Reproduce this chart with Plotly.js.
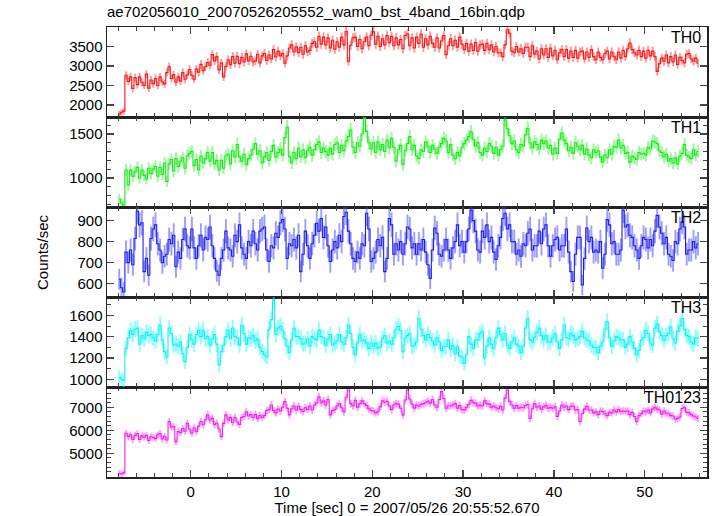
<!DOCTYPE html>
<html>
<head>
<meta charset="utf-8">
<script src="https://cdn.plot.ly/plotly-3.0.1.min.js"></script>
<style>html,body{margin:0;padding:0;background:#fff;}</style>
</head>
<body>
<div id="chart" style="width:717px;height:516px;"></div>
<script>
// Time bins: 0.25 s (16 bins of 1/64 s), first bin centre at -7.875 s
var binStart = -7.875;
var binSec = 0.25;

var th0 = [
1760,1810,1840,2760, 2600,2720,2420,2700, 2520,2720,2580,2500, 2790,2430,2640,2540,
2680,2500,2720,2590, 2540,2830,2980,2680, 2770,2580,2720,2610, 2830,2660,2770,2910,
2760,2660,2920,2840, 3040,2880,2980,3090, 3020,3290,3130,3240, 2900,3080,2720,2990,
3160,3030,3240,3070, 3250,3060,3220,3100, 3310,3130,3250,3100, 3130,3300,3080,3260,
3320,3140,3280,3180, 3420,3230,3380,3260, 3320,3070,3260,3460, 3540,3360,3490,3340,
3480,3300,3520,3360, 3400,3580,3620,3480, 3760,3560,3740,3540, 3720,3460,3660,3430,
3620,3480,3740,3540, 3890,3120,3530,3720, 3740,3500,3680,3440, 3620,3740,3520,3790,
3880,3560,3760,3500, 3700,3540,3780,3600, 3760,3520,3720,3540, 3680,3440,3780,3820,
3520,3720,3460,3740, 3580,3820,3480,3700, 3540,3760,3580,3480, 3720,3460,3640,3780,
3290,3520,3700,3520, 3660,3480,3740,3560, 3420,3580,3380,3560, 3400,3600,3380,3540,
3560,3400,3580,3420, 3540,3360,3500,3340, 3340,3240,3540,3930, 3840,3380,3340,3500,
3360,3440,3320,3480, 3480,3240,3520,3310, 3380,3180,3440,3280, 3440,3220,3460,3260,
3400,3160,3340,3420, 3240,3420,3200,3380, 3220,3400,3200,3360, 3380,3180,3360,3220,
3420,3240,3160,3360, 3220,3160,3320,3380, 3180,3360,3240,3160, 3360,3200,3400,3240,
3440,3590,3420,3340, 3280,3400,3240,3380, 3200,3400,3260,3380, 3240,2860,3060,3200,
3120,3280,3080,3240, 3100,3280,3040,3220, 3140,3080,3300,3320, 3180,3120,3200,3070
];

var th1 = [
760,715,690,1090, 920,1090,1020,1070, 1120,1000,1090,1030, 990,1110,1050,1100,
1130,1020,1120,1040, 1170,960,1160,1210, 1080,1220,1130,1190, 1230,1110,1250,1280,
1300,1140,1210,1090, 1250,1170,1220,1290, 1190,1290,1160,1200, 1090,1200,1110,1250,
1270,1160,1310,1240, 1380,1240,1190,1270, 1150,1220,1260,1330, 1390,1270,1310,1170,
1240,1290,1200,1300, 1370,1240,1290,1330, 1260,1460,1580,1240, 1170,1290,1220,1340,
1240,1320,1230,1310, 1350,1260,1320,1380, 1410,1290,1340,1300, 1260,1340,1270,1380,
1400,1290,1370,1310, 1420,1470,1545,1350, 1290,1400,1360,1500, 1680,1530,1400,1330,
1400,1290,1410,1320, 1380,1300,1430,1340, 1450,1350,1190,1320, 1370,1150,1310,1390,
1470,1320,1370,1250, 1220,1320,1300,1410, 1360,1290,1370,1330, 1280,1350,1390,1450,
1420,1290,1380,1260, 1220,1290,1250,1350, 1390,1430,1470,1525, 1440,1360,1400,1290,
1260,1340,1300,1390, 1360,1280,1350,1260, 1320,1360,1660,1560, 1480,1390,1420,1320,
1290,1380,1360,1490, 1565,1400,1340,1410, 1380,1330,1430,1390, 1420,1340,1370,1270,
1340,1280,1440,1510, 1430,1390,1310,1350, 1280,1400,1360,1320, 1370,1270,1330,1260,
1230,1320,1290,1310, 1240,1180,1260,1230, 1320,1270,1360,1350, 1430,1340,1370,1280,
1290,1180,1250,1230, 1210,1290,1270,1280, 1260,1350,1330,1420, 1410,1390,1310,1290,
1240,1270,1190,1220, 1170,1230,1160,1250, 1280,1380,1260,1240, 1220,1320,1260,1300
];

var th2 = [
620,580,560,750, 700,760,690,815, 945,880,890,657, 720,640,815,860,
880,790,760,700, 730,740,810,790, 830,680,750,720, 810,860,780,770,
860,770,720,780, 830,760,820,810, 870,780,720,660, 640,720,760,850,
770,760,730,830, 800,880,770,740, 720,800,780,850, 790,760,850,860,
870,760,705,780, 770,840,820,890, 905,860,720,790, 780,810,770,830,
657,740,850,780, 720,790,830,887, 850,910,820,870, 780,705,760,800,
770,830,800,920, 940,850,790,720, 705,750,720,790, 780,935,860,705,
720,750,810,780, 820,657,720,910, 880,740,790,760, 800,740,790,870,
860,770,790,740, 790,760,810,750, 690,625,760,865, 840,740,730,760,
810,760,720,770, 800,880,780,800, 750,800,860,950, 900,850,760,750,
850,820,880,800, 820,750,715,780, 820,910,935,860, 880,800,800,740,
760,730,790,780, 840,860,760,780, 780,850,790,860, 880,780,730,780,
810,820,760,780, 780,860,750,657, 610,740,820,820, 593,720,865,800,
820,750,760,750, 800,673,740,905, 880,790,800,740, 740,760,950,870,
880,830,820,780, 760,720,780,820, 810,770,810,780, 850,925,870,840,
790,820,740,730, 710,800,790,860, 895,870,740,760, 760,800,770,790
];

var th3 = [
1020,1000,990,1290, 1390,1460,1420,1470, 1480,1330,1410,1380, 1440,1410,1420,1390,
1360,1420,1510,1370, 1260,1210,1480,1430, 1320,1330,1310,1350, 1240,1165,1300,1420,
1370,1330,1420,1460, 1400,1460,1380,1400, 1320,1380,1420,1330, 1135,1260,1320,1400,
1460,1380,1480,1400, 1390,1320,1510,1430, 1330,1390,1380,1410, 1360,1380,1300,1260,
1230,1210,1470,1560, 1745,1420,1480,1500, 1460,1380,1310,1250, 1370,1480,1400,1400,
1380,1330,1340,1380, 1310,1400,1380,1370, 1460,1400,1390,1320, 1380,1420,1320,1340,
1360,1420,1350,1330, 1390,1510,1430,1300, 1230,1340,1420,1360, 1370,1340,1290,1340,
1310,1340,1290,1300, 1380,1410,1340,1360, 1330,1390,1470,1495, 1460,1260,1390,1410,
1430,1310,1320,1350, 1570,1470,1410,1370, 1420,1390,1360,1320, 1390,1350,1270,1310,
1310,1370,1280,1320, 1240,1310,1220,1210, 1150,1230,1400,1330, 1290,1370,1370,1430,
1450,1200,1310,1390, 1330,1290,1390,1480, 1420,1370,1430,1320, 1290,1350,1390,1330,
1310,1250,1310,1480, 1570,1370,1350,1390, 1440,1480,1410,1370, 1410,1350,1350,1390,
1430,1350,1290,1370, 1510,1390,1380,1430, 1410,1370,1380,1400, 1450,1390,1370,1360,
1320,1300,1300,1250, 1310,1350,1470,1540, 1390,1310,1360,1400, 1390,1370,1370,1300,
1330,1400,1350,1290, 1230,1270,1370,1390, 1460,1430,1340,1320, 1480,1520,1450,1410,
1370,1410,1430,1490, 1380,1340,1450,1500, 1570,1470,1410,1400, 1350,1330,1390,1380
];

var th0123 = [
4130,4100,4150,5870, 5720,5800,5600,5780, 5860,5600,5760,5700, 5780,5560,5720,5690,
5640,5800,5860,5620, 5740,5580,6380,6150, 6160,5510,5950,5900, 6080,5960,6300,6060,
5870,6100,5940,6180, 6380,6240,6460,6670, 6450,6520,6250,6320, 6060,5725,6300,6670,
6450,6550,6340,6560, 6360,6260,6560,6600, 6810,6620,6680,6560, 6680,6500,6640,6560,
6640,6860,6900,7100, 6860,6760,6920,6840, 7000,7250,6960,6670, 6940,7060,6880,7040,
6900,6820,6980,6900, 7060,6880,7100,7200, 7460,7200,7280,7100, 7340,6670,6860,6900,
7060,7160,6980,6800, 7440,7830,7160,7060, 7300,7000,7160,7280, 7160,7080,6940,6860,
6840,6760,6800,7020, 7280,7220,7260,7060, 6900,7100,7160,7140, 6960,6670,7320,7750,
7360,7140,6960,7100, 7060,7120,7160,7200, 7260,7180,7340,7100, 7000,7340,7680,7380,
6960,7060,7060,7100, 7160,6960,7080,6900, 6880,7000,7120,7300, 7200,7180,7060,7100,
7060,7280,7160,7140, 7000,7060,6980,6940, 7040,6880,7400,7750, 7260,7100,6960,7080,
6960,7000,6980,7080, 7120,6520,6940,7160, 7000,7060,6920,7020, 7080,6960,7000,6960,
7020,6600,6840,7100, 7000,7060,6900,7040, 7060,6880,6900,6380, 6720,6920,7040,6880,
6880,6760,6800,6680, 6840,6820,6720,6640, 6780,6760,6880,6800, 6900,6820,6840,6820,
6840,6680,6780,6600, 6380,6640,6720,6840, 6800,6880,6760,6920, 7000,6920,6880,6700,
6840,6740,6720,6640, 6620,6480,6520,6580, 6950,7000,6780,6760, 6680,6620,6580,6520
];

var panelNames = ['TH0', 'TH1', 'TH2', 'TH3', 'TH0123'];
var seriesList = [th0, th1, th2, th3, th0123];
var yRanges = [[1690, 4000], [670, 1693], [536, 965], [928, 1772], [3970, 7883]];
var yTickVals = [[2000, 2500, 3000, 3500], [1000, 1500], [600, 700, 800, 900], [1000, 1200, 1400, 1600], [5000, 6000, 7000]];
var yMinorDtick = [null, 100, null, 100, 200];
var lineColors = ['rgb(255,20,20)', 'rgb(20,235,20)', 'rgb(30,30,235)', 'rgb(20,240,240)', 'rgb(245,30,245)'];
var errColors = ['rgba(255,50,50,0.5)', 'rgba(50,245,50,0.5)', 'rgba(60,60,255,0.5)', 'rgba(40,255,255,0.55)', 'rgba(255,60,255,0.5)'];

var times = th0.map(function (_, i) { return binStart + i * binSec; });

var traces = [];
var layout = {
  width: 717, height: 516,
  margin: {l: 107, r: 10, t: 27, b: 39},
  paper_bgcolor: '#ffffff', plot_bgcolor: '#ffffff',
  showlegend: false,
  font: {family: 'Liberation Sans, Arial, sans-serif', size: 15, color: '#000'},
  title: {
    text: 'ae702056010_20070526205552_wam0_bst_4band_16bin.qdp',
    x: 0, xref: 'paper', xanchor: 'left',
    y: 1 - 12 / 516, yref: 'container', yanchor: 'middle',
    font: {size: 15, color: '#000'}
  },
  annotations: []
};

var nPanels = panelNames.length;
for (var p = 0; p < nPanels; p++) {
  // bottom panel uses the main x axis
  var axIdx = (p === nPanels - 1) ? '' : String(p + 2);
  var xName = 'xaxis' + axIdx, yName = 'yaxis' + axIdx;
  var xRef = 'x' + axIdx, yRef = 'y' + axIdx;
  var vals = seriesList[p];
  var errs = vals.map(function (v) { return Math.sqrt(v / binSec); });
  traces.push({
    type: 'scatter', mode: 'lines',
    x: times, y: vals,
    xaxis: xRef, yaxis: yRef,
    line: {color: lineColors[p], width: 1.1, shape: 'hvh'},
    error_y: {type: 'data', array: errs, visible: true, color: errColors[p], thickness: 1.9, width: 0},
    hoverinfo: 'skip'
  });
  var domTop = 1 - p / nPanels, domBottom = 1 - (p + 1) / nPanels;
  layout[xName] = {
    domain: [0, 1], anchor: yRef,
    range: [-9.22, 56.86],
    showline: true, linecolor: '#222', linewidth: 1.5, mirror: 'ticks',
    ticks: 'inside', ticklen: 7, tickwidth: 1.5, tickcolor: '#444',
    dtick: 10, tick0: 0,
    minor: {dtick: 2, ticklen: 4, tickwidth: 1, tickcolor: '#444', ticks: 'inside'},
    showgrid: false, zeroline: false,
    showticklabels: (p === nPanels - 1),
    tickfont: {size: 15}
  };
  if (p !== nPanels - 1) { layout[xName].matches = 'x'; }
  else {
    layout[xName].title = {text: 'Time [sec] 0 = 2007/05/26 20:55:52.670', font: {size: 15}, standoff: 4};
  }
  var yAx = {
    domain: [domBottom, domTop], anchor: xRef,
    range: yRanges[p],
    showline: true, linecolor: '#222', linewidth: 1.5, mirror: 'ticks',
    ticks: 'inside', ticklen: 7, tickwidth: 1.5, tickcolor: '#444',
    tickmode: 'array', tickvals: yTickVals[p],
    showgrid: false, zeroline: false,
    tickfont: {size: 15}
  };
  if (yMinorDtick[p]) {
    yAx.minor = {dtick: yMinorDtick[p], tick0: 0, ticklen: 4, tickwidth: 1, tickcolor: '#444', ticks: 'inside'};
  }
  layout[yName] = yAx;
  layout.annotations.push({
    text: panelNames[p], xref: 'paper', yref: 'paper',
    x: 0.9933, xanchor: 'right',
    y: domTop - 10 / 450, yanchor: 'middle',
    showarrow: false, font: {size: 16, color: '#000'}
  });
}

layout.annotations.push({
  text: 'Counts/sec', xref: 'paper', yref: 'paper',
  x: (42 - 107) / 600, y: 0.5, xanchor: 'center', yanchor: 'middle',
  textangle: -90, showarrow: false, font: {size: 15, color: '#000'}
});

Plotly.newPlot('chart', traces, layout, {displayModeBar: false, staticPlot: true});
</script>
</body>
</html>
